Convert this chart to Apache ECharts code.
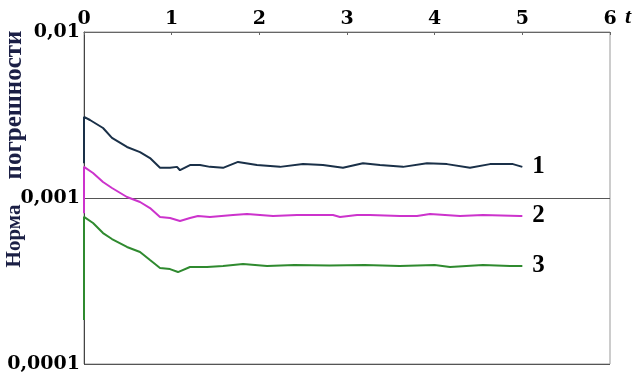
<!DOCTYPE html>
<html>
<head>
<meta charset="utf-8">
<script src="https://cdn.jsdelivr.net/npm/echarts@6/dist/echarts.min.js"></script>
<style>html,body{margin:0;padding:0;background:#fff;}#c{width:637px;height:382px;}</style>
</head>
<body>
<div id="c"></div>
<script>
// ---- data ----
const xTicks = [0, 1, 2, 3, 4, 5, 6];
const yTickLabels = { '0.01': '0,01', '0.001': '0,001', '0.0001': '0,0001' };
const seriesNames = ['1', '2', '3'];
const line1 = [[0,0.00162],[0,0.00308],[0.068,0.00295],[0.217,0.00264],[0.319,0.00230],[0.490,0.00203],[0.639,0.00189],[0.753,0.00174],[0.867,0.00152],[0.981,0.00152],[1.061,0.00154],[1.095,0.00147],[1.209,0.00158],[1.323,0.00158],[1.437,0.00154],[1.586,0.00152],[1.757,0.00165],[1.973,0.00158],[2.236,0.00154],[2.498,0.00160],[2.726,0.00158],[2.954,0.00152],[3.182,0.00162],[3.376,0.00158],[3.639,0.00154],[3.912,0.00162],[4.141,0.00160],[4.403,0.00152],[4.631,0.00160],[4.893,0.00160],[5.0,0.00154]];
const line2 = [[0,0.00081],[0,0.00154],[0.103,0.001415],[0.217,0.001248],[0.319,0.001149],[0.490,0.001014],[0.639,0.000946],[0.753,0.000870],[0.867,0.000768],[0.981,0.000758],[1.095,0.000727],[1.209,0.000758],[1.300,0.000779],[1.437,0.000768],[1.700,0.000790],[1.859,0.000801],[2.156,0.000779],[2.430,0.000790],[2.840,0.000790],[2.920,0.000768],[3.114,0.000790],[3.262,0.000790],[3.604,0.000779],[3.798,0.000779],[3.947,0.000801],[4.289,0.000779],[4.551,0.000790],[4.973,0.000779],[5.0,0.000779]];
const line3 = [[0,0.000184],[0,0.00077],[0.103,0.000707],[0.217,0.000615],[0.319,0.000566],[0.490,0.000507],[0.639,0.000473],[0.753,0.000423],[0.867,0.000379],[0.981,0.000373],[1.072,0.000358],[1.209,0.000384],[1.403,0.000384],[1.586,0.000390],[1.814,0.000400],[2.088,0.000390],[2.4,0.000395],[2.8,0.000392],[3.2,0.000395],[3.6,0.000390],[4.0,0.000395],[4.175,0.000384],[4.55,0.000395],[4.86,0.000390],[5.0,0.000390]];
const colors = ['#1a3048', '#cc33cc', '#2f8a2f'];
const yTitleParts = ['Норма', 'погрешности'];
const xName = 't';

// ---- chart ----
const chart = echarts.init(document.getElementById('c'), null, { renderer: 'canvas' });
const serif = '"DejaVu Serif", "Liberation Serif", serif';
const lineData = [line1, line2, line3];
chart.setOption({
  animation: false,
  backgroundColor: '#fff',
  grid: { left: 84, right: 27, top: 32, bottom: 18, show: true, borderColor: '#999', borderWidth: 1 },
  xAxis: {
    type: 'value', position: 'top', min: xTicks[0], max: xTicks[xTicks.length - 1], interval: 1,
    axisLine: { show: true, lineStyle: { color: '#666', width: 1 } },
    axisTick: { show: true, inside: true, length: 3, lineStyle: { color: '#666' } },
    axisLabel: { color: '#000', fontFamily: serif, fontWeight: 'bold', fontSize: 19, margin: 3 },
    splitLine: { show: false }
  },
  yAxis: {
    type: 'log', logBase: 10, min: 0.0001, max: 0.01,
    axisLine: { show: true, lineStyle: { color: '#444', width: 1 } },
    axisTick: { show: false },
    minorTick: { show: false },
    axisLabel: {
      color: '#000', fontFamily: serif, fontWeight: 'bold', fontSize: 19, margin: 4,
      formatter: v => yTickLabels[String(+(+v).toPrecision(1))] || ''
    },
    splitLine: { show: true, lineStyle: { color: '#555', width: 1 } }
  },
  series: lineData.map((d, i) => ({
    type: 'line', name: seriesNames[i], data: d, showSymbol: false, smooth: false,
    lineStyle: { color: colors[i], width: 2 }, itemStyle: { color: colors[i] },
    endLabel: { show: true, formatter: p => p.seriesName, distance: 10, color: '#000',
      fontFamily: '"Liberation Serif", serif', fontWeight: 'bold', fontSize: 25 }
  })),
  graphic: [
    { type: 'text', x: 15, y: 236, rotation: Math.PI / 2,
      style: { text: yTitleParts[0], align: 'center', verticalAlign: 'middle', fill: '#1b1f45',
        font: 'bold 21px "Liberation Serif", serif' } },
    { type: 'text', x: 15, y: 105, rotation: Math.PI / 2,
      style: { text: yTitleParts[1], align: 'center', verticalAlign: 'middle', fill: '#1b1f45',
        font: 'bold 25px "Liberation Serif", serif' } },
    { type: 'text', x: 628, y: 17,
      style: { text: xName, align: 'center', verticalAlign: 'middle', fill: '#000',
        font: 'italic bold 22px "Liberation Serif", serif' } }
  ]
});
</script>
</body>
</html>
